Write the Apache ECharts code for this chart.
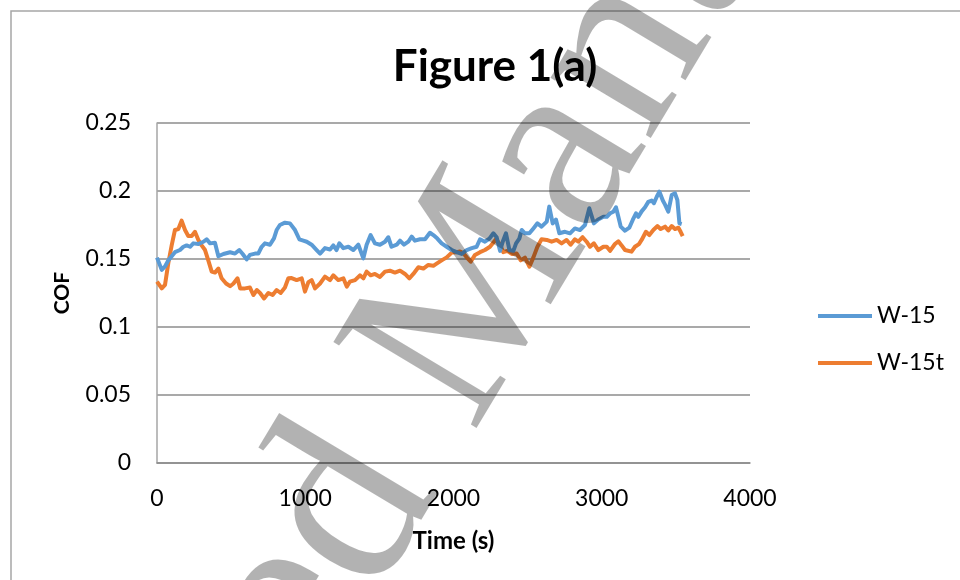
<!DOCTYPE html>
<html>
<head>
<meta charset="utf-8">
<script src="https://cdn.jsdelivr.net/npm/echarts@6/dist/echarts.min.js"></script>
<style>html,body{margin:0;padding:0;background:#fff;}#c{width:960px;height:580px;}</style>
</head>
<body>
<div id="c"></div>
<script>
var chartTitle = 'Figure 1(a)';
var xAxisTitle = 'Time (s)';
var yAxisTitle = 'COF';
var seriesNames = ['W-15', 'W-15t'];
var watermarkText = 'Accepted Manuscript';

var timeW15 = [0,32,54,76,121,155,178,200,223,245,279,313,335,358,391,414,448,493,526,555,578,605,627,661,683,706,728,762,789,807,829,863,897,931,960,987,1010,1043,1077,1100,1133,1167,1189,1211,1230,1257,1291,1324,1358,1392,1414,1441,1470,1504,1538,1560,1582,1617,1639,1666,1695,1718,1740,1774,1808,1841,1864,1891,1920,1954,1988,2021,2055,2089,2123,2156,2179,2212,2242,2269,2291,2314,2332,2354,2377,2404,2422,2444,2460,2482,2512,2539,2566,2594,2629,2646,2669,2691,2714,2752,2786,2819,2853,2887,2916,2947,2976,3011,3034,3056,3078,3096,3112,3128,3157,3186,3209,3231,3247,3269,3292,3314,3337,3352,3371,3389,3412,3427,3449,3472,3494,3510,3524,3539];
var cofW15 = [0.151,0.142,0.1445,0.149,0.155,0.1566,0.159,0.160,0.159,0.1615,0.161,0.1627,0.1645,0.1615,0.162,0.152,0.1537,0.155,0.154,0.1566,0.1537,0.1497,0.153,0.154,0.154,0.159,0.1615,0.1605,0.1652,0.1713,0.175,0.1767,0.1762,0.1713,0.1645,0.1635,0.1627,0.1605,0.1566,0.154,0.158,0.157,0.160,0.1566,0.1615,0.158,0.159,0.1566,0.1605,0.1505,0.1605,0.1676,0.1615,0.1605,0.1627,0.166,0.159,0.1605,0.1635,0.1605,0.1627,0.1665,0.1635,0.1645,0.1645,0.1693,0.1676,0.165,0.1615,0.159,0.1566,0.155,0.1537,0.1566,0.158,0.159,0.1645,0.1627,0.165,0.1689,0.166,0.156,0.1627,0.1689,0.1566,0.156,0.1615,0.165,0.1713,0.1689,0.1689,0.1725,0.1762,0.1738,0.1775,0.1885,0.1762,0.179,0.1689,0.170,0.1689,0.1725,0.1713,0.175,0.1873,0.1762,0.179,0.181,0.181,0.1836,0.1848,0.188,0.181,0.1738,0.1708,0.173,0.1787,0.1836,0.181,0.185,0.188,0.192,0.193,0.191,0.1958,0.1995,0.193,0.190,0.1848,0.197,0.1983,0.1934,0.1762,0.1757];

var timeW15t = [0,32,54,76,99,121,144,166,189,211,234,256,279,301,324,346,369,391,414,436,466,493,516,543,561,594,627,650,673,695,722,751,780,807,834,863,886,908,942,976,998,1021,1043,1066,1100,1133,1167,1189,1223,1257,1280,1301,1336,1369,1392,1414,1441,1470,1504,1538,1571,1605,1639,1673,1702,1729,1763,1797,1830,1864,1886,1920,1954,1988,2021,2044,2067,2089,2116,2145,2179,2212,2246,2287,2314,2336,2363,2393,2426,2453,2482,2512,2539,2566,2594,2629,2662,2696,2729,2763,2790,2819,2842,2871,2898,2921,2947,2977,3011,3034,3056,3089,3112,3134,3157,3201,3224,3251,3269,3298,3321,3348,3375,3397,3427,3449,3472,3494,3517,3532,3546];
var cofW15t = [0.1333,0.1284,0.131,0.1468,0.160,0.1713,0.172,0.1782,0.1713,0.1669,0.167,0.170,0.164,0.160,0.1566,0.149,0.1407,0.140,0.143,0.1358,0.132,0.130,0.132,0.1358,0.1284,0.1284,0.129,0.1235,0.1272,0.125,0.121,0.125,0.1235,0.1272,0.125,0.129,0.1358,0.136,0.1345,0.1358,0.126,0.133,0.1345,0.1284,0.132,0.137,0.1345,0.138,0.1345,0.1358,0.1297,0.1333,0.1345,0.138,0.1358,0.1407,0.138,0.139,0.1368,0.1407,0.1414,0.140,0.1414,0.139,0.1358,0.139,0.1439,0.143,0.1456,0.145,0.1466,0.149,0.1512,0.1547,0.155,0.1556,0.1542,0.1512,0.148,0.153,0.155,0.1566,0.159,0.1645,0.1605,0.155,0.156,0.1537,0.154,0.149,0.151,0.1444,0.1512,0.159,0.1645,0.164,0.1627,0.164,0.1615,0.164,0.1605,0.1645,0.1627,0.166,0.1627,0.159,0.1615,0.1566,0.159,0.159,0.156,0.161,0.163,0.160,0.1566,0.1554,0.159,0.161,0.164,0.170,0.1676,0.1713,0.1742,0.172,0.1738,0.171,0.1742,0.172,0.173,0.170,0.1669];

function pairs(xs, ys) { return xs.map(function (x, i) { return [x, ys[i]]; }); }

var chart = echarts.init(document.getElementById('c'), null, { renderer: 'canvas' });
var baseFont = 'Lato, "Liberation Sans", sans-serif';
var wmAngle = 59 * Math.PI / 180;

chart.setOption({
  backgroundColor: '#ffffff',
  animation: false,
  title: {
    text: chartTitle,
    left: 490, top: 40,
    textAlign: 'center',
    textStyle: { fontFamily: baseFont, fontWeight: 'bold', fontSize: 44, color: '#000' }
  },
  legend: {
    orient: 'vertical',
    left: 818, top: 304, padding: 0,
    itemWidth: 54, itemHeight: 4, itemGap: 23,
    icon: 'rect',
    textStyle: { fontFamily: baseFont, fontSize: 23, color: '#000', lineHeight: 24 },
    data: seriesNames
  },
  grid: { left: 157, top: 123, right: 210, bottom: 117, containLabel: false },
  xAxis: {
    type: 'value', min: 0, max: 4000, interval: 1000,
    name: xAxisTitle, nameLocation: 'middle', nameGap: 66,
    nameTextStyle: { fontFamily: baseFont, fontWeight: 'bold', fontSize: 24, color: '#000' },
    axisLine: { show: true, lineStyle: { color: '#8c8c8c', width: 1.5 } },
    axisTick: { show: false },
    splitLine: { show: false },
    axisLabel: { fontFamily: baseFont, fontSize: 23, color: '#000', margin: 24,
      formatter: function (v) { return String(v); } }
  },
  yAxis: {
    type: 'value', min: 0, max: 0.25, interval: 0.05,
    name: yAxisTitle, nameLocation: 'middle', nameGap: 84, nameRotate: 90,
    nameTextStyle: { fontFamily: baseFont, fontWeight: 'bold', fontSize: 21, color: '#000' },
    axisLine: { show: true, lineStyle: { color: '#a6a6a6', width: 1.5 } },
    axisTick: { show: false },
    splitLine: { show: true, lineStyle: { color: '#8c8c8c', width: 1.5 } },
    axisLabel: { fontFamily: baseFont, fontSize: 23, color: '#000', margin: 26,
      formatter: function (v) { return String(+v.toFixed(2)); } }
  },
  series: [
    { name: seriesNames[0], type: 'line', data: pairs(timeW15, cofW15), showSymbol: false, symbol: 'none',
      color: '#5B9BD5', lineStyle: { width: 4, color: '#5B9BD5', join: 'round' }, z: 3 },
    { name: seriesNames[1], type: 'line', data: pairs(timeW15t, cofW15t), showSymbol: false, symbol: 'none',
      color: '#ED7D31', lineStyle: { width: 4, color: '#ED7D31', join: 'round' }, z: 2 }
  ],
  graphic: [
    { type: 'rect', shape: { x: 11, y: 11, width: 1100, height: 1100 }, silent: true, z: 0,
      style: { fill: 'none', stroke: '#a6a6a6', lineWidth: 1.5 } },
    { type: 'text', x: 450, y: 342, rotation: wmAngle, silent: true, z: 100,
      style: { text: watermarkText, font: '255px "Liberation Serif", serif', fill: 'rgba(0,0,0,0.3)',
        align: 'center', verticalAlign: 'middle' } }
  ]
});
</script>
</body>
</html>
